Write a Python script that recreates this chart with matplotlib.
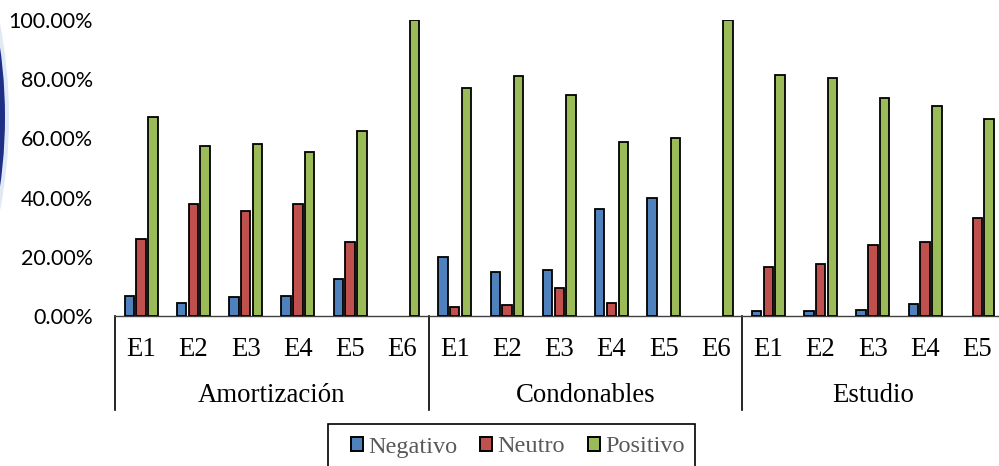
import matplotlib.pyplot as plt
import matplotlib.patches as mpatches
import matplotlib.transforms as mtransforms
import numpy as np

# Data (percent)
groups = ['Amortización', 'Condonables', 'Estudio']
group_sizes = [6, 6, 5]
labels = ['E1', 'E2', 'E3', 'E4', 'E5', 'E6',
          'E1', 'E2', 'E3', 'E4', 'E5', 'E6',
          'E1', 'E2', 'E3', 'E4', 'E5']
negativo = [6.7, 4.3, 6.4, 6.7, 12.5, 0.0,
            20.0, 14.8, 15.7, 36.1, 39.9, 0.0,
            1.8, 1.6, 2.0, 4.1, 0.0]
neutro = [25.9, 37.9, 35.4, 37.7, 24.9, 0.0,
          2.9, 3.8, 9.5, 4.4, 0.0, 0.0,
          16.6, 17.7, 24.1, 25.0, 33.1]
positivo = [67.1, 57.4, 58.1, 55.5, 62.4, 100.0,
            76.9, 81.0, 74.7, 58.9, 60.1, 100.0,
            81.4, 80.5, 73.6, 70.8, 66.6]

series = [('Negativo', negativo, '#4F81BD'),
          ('Neutro', neutro, '#C0504D'),
          ('Positivo', positivo, '#9BBB59')]

W, H = 999, 466
fig = plt.figure(figsize=(W / 100, H / 100), dpi=100)

# piece of a logo cut off at the left edge
fig.patches.append(mpatches.Circle((-488, H - 117), 497, transform=None,
                                   facecolor='#c5d3ee', edgecolor='none', alpha=0.5))
fig.patches.append(mpatches.Circle((-488, H - 117), 493, transform=None,
                                   facecolor='#1f2f85', edgecolor='none'))

ax = fig.add_axes([115 / W, 1 - 316 / H, (W - 115) / W, (316 - 20) / H])

x = np.arange(len(labels))
bw = 0.18
step = 0.225
for i, (name, vals, col) in enumerate(series):
    vals = np.array(vals, dtype=float)
    vals[vals == 0] = np.nan  # empty categories show no bar
    ax.bar(x + (i - 1) * step, vals, bw, color=col, edgecolor='black',
           linewidth=1.3, label=name, zorder=3)

cat_px = 52.3
ax.set_xlim(-0.5, 16.5 - (1003.5 - W) / cat_px)
ax.set_ylim(0, 100)
ax.set_yticks([0, 20, 40, 60, 80, 100])
ax.set_yticklabels([f'{v:.2f}%' for v in [0, 20, 40, 60, 80, 100]],
                   fontfamily='Lato', fontsize=15.5)
ax.tick_params(axis='y', length=0, pad=16)
ax.set_xticks([])

for s in ['top', 'right', 'left']:
    ax.spines[s].set_visible(False)
ax.spines['bottom'].set_color('#404040')
ax.spines['bottom'].set_linewidth(1.0)

trans = mtransforms.blended_transform_factory(ax.transData, ax.transAxes)
ax_h = 316 - 20
fs = 19.3
# category labels
for xi, lab in zip(x, labels):
    ax.text(xi, -33 / ax_h, lab, transform=trans, ha='center', va='center',
            fontfamily='Liberation Serif', fontsize=fs)

# group labels and separators
start = 0
bounds = [-0.5]
for g, n in zip(groups, group_sizes):
    center = start + (n - 1) / 2 if n == 6 else start + 2
    ax.text(center, -79 / ax_h, g, transform=trans, ha='center', va='center',
            fontfamily='Liberation Serif', fontsize=fs)
    start += n
    bounds.append(start - 0.5)
for b in bounds[:-1]:
    ax.plot([b, b], [0, -94 / ax_h], transform=trans, color='black',
            linewidth=1.2, clip_on=False)

# legend: frame drawn separately, cut off at the bottom like the original
fig.patches.append(mpatches.Rectangle((328, H - 472), 695 - 328, 48,
                                      transform=None, fill=False,
                                      edgecolor='black', linewidth=1.2))
handles = [mpatches.Patch(facecolor=c, edgecolor='black', linewidth=1.4)
           for _, _, c in series]
leg = fig.legend(handles, [s[0] for s in series], loc='center left',
                 bbox_to_anchor=(351 / W, 1 - 447 / H), ncol=3,
                 prop={'family': 'Liberation Serif', 'size': 17.5},
                 handlelength=0.5, handleheight=0.5, handletextpad=0.2,
                 columnspacing=0.95, borderpad=0, frameon=False,
                 borderaxespad=0)
for t in leg.get_texts():
    t.set_color('#595959')

fig.savefig('out.png', dpi=100)
